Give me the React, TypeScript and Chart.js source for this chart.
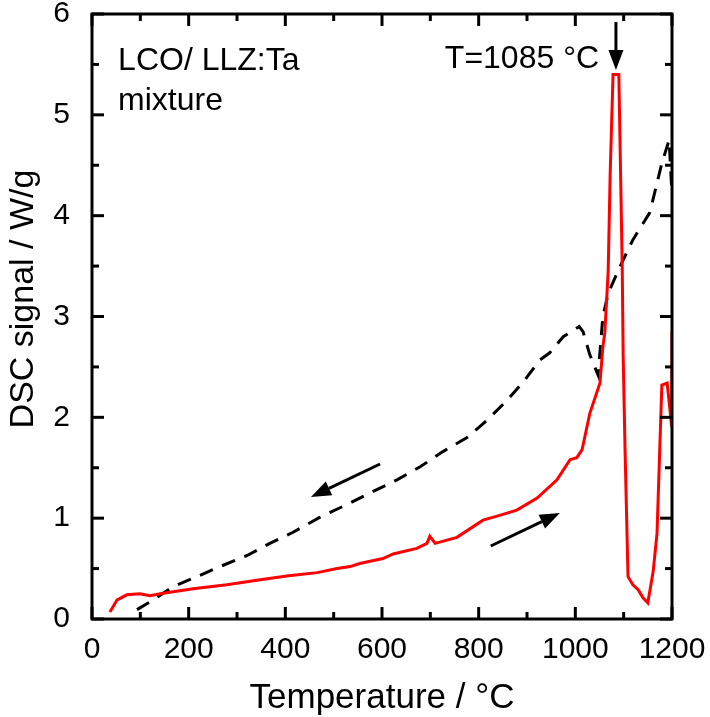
import { useEffect, useRef } from 'react';
import { Chart, registerables } from 'chart.js';

Chart.register(...registerables);

// Heating run (solid red)
const heatTemp = [37, 52, 72, 99, 120, 141, 209, 279, 348, 407, 466, 507, 534, 554, 602, 623, 672, 693, 699, 710, 755, 809, 838, 879, 921, 962, 989, 1003, 1014, 1030, 1051, 1057, 1061, 1068, 1072, 1078, 1090, 1097, 1099, 1103, 1109, 1119, 1130, 1140, 1150, 1161, 1169, 1179, 1190, 1199.5, 1200];
const heatDsc = [0.07, 0.19, 0.24, 0.25, 0.23, 0.25, 0.30, 0.34, 0.39, 0.43, 0.46, 0.50, 0.52, 0.55, 0.60, 0.645, 0.70, 0.75, 0.82, 0.75, 0.81, 0.98, 1.02, 1.08, 1.20, 1.38, 1.58, 1.60, 1.68, 2.04, 2.34, 2.70, 2.84, 3.45, 4.40, 5.40, 5.40, 3.50, 2.60, 1.65, 0.42, 0.34, 0.29, 0.21, 0.16, 0.47, 0.85, 2.32, 2.34, 1.90, 2.85];

// Cooling run (dashed black)
const coolTemp = [1199, 1194, 1179, 1154, 1119, 1092, 1068, 1057, 1047, 1030, 1016, 1008, 975, 947, 927, 892, 859, 817, 776, 726, 679, 631, 575, 534, 472, 416, 368, 321, 265, 217, 168, 120, 85];
const coolDsc = [4.30, 4.75, 4.52, 4.03, 3.76, 3.49, 3.23, 3.00, 2.42, 2.62, 2.85, 2.90, 2.80, 2.64, 2.57, 2.35, 2.17, 1.97, 1.80, 1.66, 1.51, 1.38, 1.25, 1.15, 1.01, 0.86, 0.75, 0.63, 0.52, 0.42, 0.32, 0.17, 0.07];

// Axis ranges / ticks
const xMin = 0, xMax = 1200, xStep = 200, xMinorStep = 100;
const yMin = 0, yMax = 6, yStep = 1, yMinorStep = 0.5;

// Annotation texts (data coordinates)
const noteTexts = ['LCO/ LLZ:Ta', 'mixture', 'T=1085 °C'];
const noteX = [54, 54, 730];
const noteY = [5.445, 5.05, 5.465];

// Arrows: start and tip (data coordinates)
const arrowStartX = [596, 825, 1084];
const arrowStartY = [1.537, 0.724, 5.92];
const arrowTipX = [453, 968, 1084];
const arrowTipY = [1.21, 1.051, 5.445];

const xTitle = 'Temperature / °C';
const yTitle = 'DSC signal / W/g';

const FONT = '"Liberation Sans", Arial, Helvetica, sans-serif';

const framePlugin = {
  id: 'frameTicksNotes',
  afterDraw(chart: any) {
    const { ctx, chartArea: a, scales } = chart;
    const xs = scales.x;
    const ys = scales.y;
    ctx.save();
    ctx.strokeStyle = '#000';
    ctx.fillStyle = '#000';
    ctx.lineWidth = 3;
    ctx.lineCap = 'butt';
    const seg = (x0: number, y0: number, x1: number, y1: number) => {
      ctx.beginPath();
      ctx.moveTo(x0, y0);
      ctx.lineTo(x1, y1);
      ctx.stroke();
    };
    // x ticks (inward, bottom and top)
    for (let v = xMin; v <= xMax + 1e-9; v += xMinorStep) {
      const px = xs.getPixelForValue(v);
      const len = Math.abs(v % xStep) < 1e-9 ? 12 : 7;
      seg(px, a.bottom, px, a.bottom - len);
      seg(px, a.top, px, a.top + len);
    }
    // y ticks (inward, left and right)
    for (let v = yMin; v <= yMax + 1e-9; v += yMinorStep) {
      const py = ys.getPixelForValue(v);
      const len = Math.abs(v % yStep) < 1e-9 ? 12 : 7;
      seg(a.left, py, a.left + len, py);
      seg(a.right, py, a.right - len, py);
    }
    // frame
    ctx.lineJoin = 'miter';
    ctx.strokeRect(a.left, a.top, a.right - a.left, a.bottom - a.top);

    // annotations
    ctx.font = `32px ${FONT}`;
    ctx.textAlign = 'left';
    ctx.textBaseline = 'alphabetic';
    noteTexts.forEach((t, i) => {
      ctx.fillText(t, xs.getPixelForValue(noteX[i]), ys.getPixelForValue(noteY[i]));
    });

    // arrows
    for (let i = 0; i < arrowStartX.length; i++) {
      const x0 = xs.getPixelForValue(arrowStartX[i]);
      const y0 = ys.getPixelForValue(arrowStartY[i]);
      const x1 = xs.getPixelForValue(arrowTipX[i]);
      const y1 = ys.getPixelForValue(arrowTipY[i]);
      const ang = Math.atan2(y1 - y0, x1 - x0);
      const headLen = 20;
      const headHalf = 7.5;
      const bx = x1 - headLen * Math.cos(ang);
      const by = y1 - headLen * Math.sin(ang);
      ctx.lineWidth = 3;
      seg(x0, y0, bx, by);
      ctx.beginPath();
      ctx.moveTo(x1, y1);
      ctx.lineTo(bx + headHalf * Math.sin(ang), by - headHalf * Math.cos(ang));
      ctx.lineTo(bx - headHalf * Math.sin(ang), by + headHalf * Math.cos(ang));
      ctx.closePath();
      ctx.fill();
    }

    // axis titles
    ctx.font = `35px ${FONT}`;
    ctx.textAlign = 'center';
    ctx.textBaseline = 'alphabetic';
    ctx.fillText(xTitle, (a.left + a.right) / 2, 708);
    ctx.save();
    ctx.translate(33, 299);
    ctx.rotate(-Math.PI / 2);
    ctx.font = `34px ${FONT}`;
    ctx.fillText(yTitle, 0, 0);
    ctx.restore();

    ctx.restore();
  },
};

export default function App() {
  const ref = useRef<HTMLCanvasElement | null>(null);
  useEffect(() => {
    if (!ref.current) return;
    const chart = new Chart(ref.current, {
      type: 'line',
      data: {
        datasets: [
          {
            label: 'heating',
            data: heatTemp.map((t, i) => ({ x: t, y: heatDsc[i] })),
            borderColor: '#ff0000',
            borderWidth: 3,
            pointRadius: 0,
            tension: 0,
            fill: false,
          },
          {
            label: 'cooling',
            data: coolTemp.map((t, i) => ({ x: t, y: coolDsc[i] })),
            borderColor: '#000000',
            borderWidth: 3,
            borderDash: [14, 10],
            pointRadius: 0,
            tension: 0,
            fill: false,
          },
        ],
      },
      options: {
        animation: false,
        responsive: false,
        devicePixelRatio: 1,
        layout: { padding: { top: 14, right: 38, left: 0, bottom: 0 } },
        plugins: { legend: { display: false }, tooltip: { enabled: false } },
        scales: {
          x: {
            type: 'linear',
            min: xMin,
            max: xMax,
            grid: { display: false },
            border: { display: false },
            ticks: {
              stepSize: xStep,
              autoSkip: false,
              maxRotation: 0,
              color: '#000',
              padding: 5,
              font: { size: 30, family: FONT },
              callback: (v: any) => String(v),
            },
            afterFit: (s: any) => {
              s.height = 98;
              s.paddingLeft = 0;
              s.paddingRight = 0;
            },
          },
          y: {
            type: 'linear',
            min: yMin,
            max: yMax,
            grid: { display: false },
            border: { display: false },
            ticks: {
              stepSize: yStep,
              color: '#000',
              padding: 14,
              font: { size: 30, family: FONT },
              callback: (v: any) => String(v),
            },
            afterFit: (s: any) => {
              s.width = 92;
              s.paddingTop = 0;
              s.paddingBottom = 0;
            },
          },
        },
      },
      plugins: [framePlugin],
    });
    return () => chart.destroy();
  }, []);
  return (
    <div style={{ position: 'fixed', left: 0, top: 0, width: 710, height: 717, background: '#fff' }}>
      <canvas ref={ref} width={710} height={717} style={{ display: 'block' }} />
    </div>
  );
}
